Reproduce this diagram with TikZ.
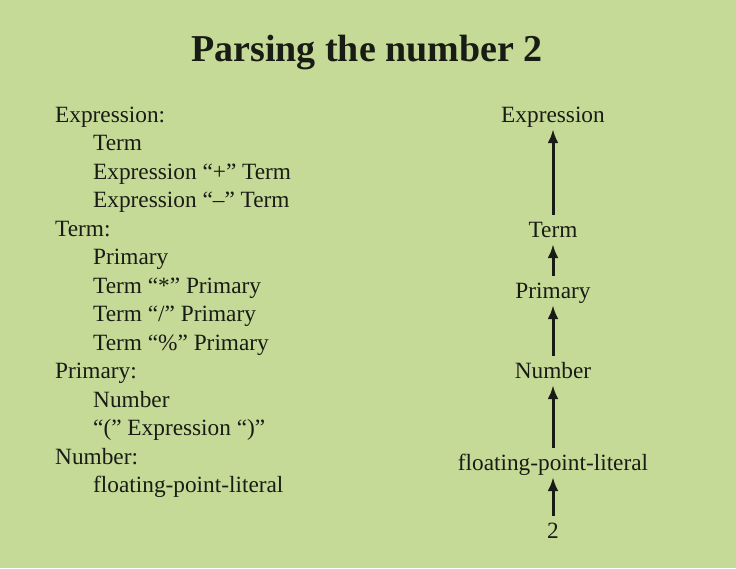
\documentclass[tikz,border=0pt]{standalone}
\usepackage{fontspec}
\setmainfont{Liberation Serif}
\usetikzlibrary{arrows.meta}
\definecolor{bg}{HTML}{C6DA97}
\definecolor{ink}{HTML}{181C14}
\begin{document}
\begin{tikzpicture}[x=1pt,y=-1pt,
  txt/.style={text=ink, inner sep=0pt, anchor=base west, font=\fontsize{23.3}{28}\selectfont},
  chainnode/.style={txt, anchor=base, text height=16pt, text depth=5pt},
  titlenode/.style={text=ink, inner sep=0pt, anchor=base, font=\bfseries\fontsize{38}{42}\selectfont},
  uparrow/.style={draw=ink, line width=3pt, -{Latex[length=14pt,width=11pt]}, shorten <=6pt, shorten >=2pt}]
\fill[bg] (0,0) rectangle (736,568);
\useasboundingbox (0,0) rectangle (736,568);
\node[titlenode] (title) at (367,61) {Parsing the number 2};
% grammar
\node[txt] (l1)  at (55,122)   {Expression:};
\node[txt] (l2)  at (93,150.5) {Term};
\node[txt] (l3)  at (93,179)   {Expression “+” Term};
\node[txt] (l4)  at (93,207.5) {Expression “–” Term};
\node[txt] (l5)  at (55,236)   {Term:};
\node[txt] (l6)  at (93,264.5) {Primary};
\node[txt] (l7)  at (93,293)   {Term “*” Primary};
\node[txt] (l8)  at (93,321.5) {Term “/” Primary};
\node[txt] (l9)  at (93,350)   {Term “\%” Primary};
\node[txt] (l10) at (55,378.5) {Primary:};
\node[txt] (l11) at (93,407)   {Number};
\node[txt] (l12) at (93,435.5) {“(” Expression “)”};
\node[txt] (l13) at (55,464)   {Number:};
\node[txt] (l14) at (93,492.5) {floating-point-literal};
% parse chain
\node[chainnode] (expr) at (553,122) {Expression};
\node[chainnode] (term) at (553,237) {Term};
\node[chainnode] (prim) at (553,298) {Primary};
\node[chainnode] (num)  at (553,378) {Number};
\node[chainnode] (fpl)  at (553,470) {floating-point-literal};
\node[chainnode] (two)  at (553,538) {2};
\draw[uparrow] (term.north) -- (expr.south);
\draw[uparrow] (prim.north) -- (term.south);
\draw[uparrow] (num.north) -- (prim.south);
\draw[uparrow] (fpl.north) -- (num.south);
\draw[uparrow] (two.north) -- (fpl.south);
\end{tikzpicture}
\end{document}
